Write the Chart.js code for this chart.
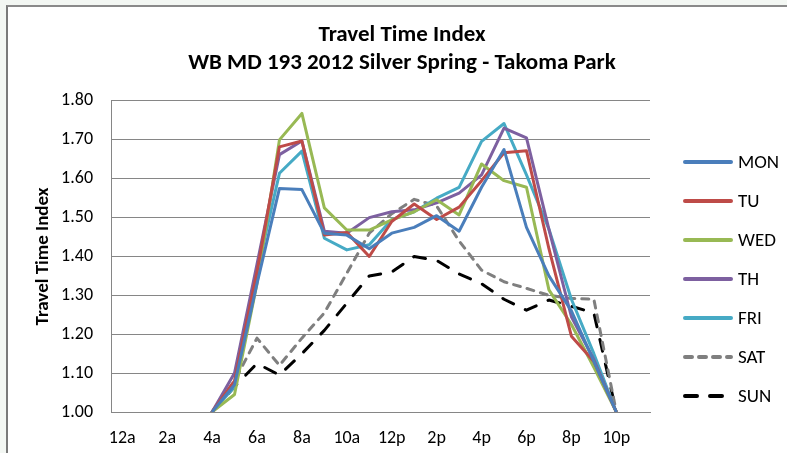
<!DOCTYPE html>
<html>
<head>
<meta charset="utf-8">
<script src="https://cdn.jsdelivr.net/npm/chart.js@4/dist/chart.umd.min.js"></script>
<style>
  html, body { margin: 0; padding: 0; background: #f3f7f3; }
  #frame {
    position: absolute; left: 6px; top: 5px; right: -10px; bottom: -10px;
    background: #fff; border-left: 2px solid #7a7a7a; border-top: 2px solid #8a8a8a;
  }
  #tti { position: absolute; left: 0; top: 0; }
</style>
</head>
<body>
<div id="frame"></div>
<canvas id="tti" width="787" height="453"></canvas>
<script>
// hour of day, one point per hour
const hours = ['12a', '1a', '2a', '3a', '4a', '5a', '6a', '7a', '8a', '9a', '10a', '11a',
               '12p', '1p', '2p', '3p', '4p', '5p', '6p', '7p', '8p', '9p', '10p', '11p'];

const days = ['MON', 'TU', 'WED', 'TH', 'FRI', 'SAT', 'SUN'];

// travel time index by hour (no data overnight)
const mon = [null, null, null, null, 1.00, 1.07, 1.33, 1.575, 1.572, 1.46, 1.455, 1.42,
             1.46, 1.475, 1.505, 1.465, 1.578, 1.675, 1.475, 1.35, 1.26, 1.13, 1.00, null];
const tu  = [null, null, null, null, 1.00, 1.08, 1.36, 1.682, 1.697, 1.455, 1.462, 1.40,
             1.49, 1.535, 1.495, 1.527, 1.595, 1.667, 1.672, 1.42, 1.195, 1.13, 1.00, null];
const wed = [null, null, null, null, 1.00, 1.045, 1.33, 1.70, 1.768, 1.525, 1.468, 1.468,
             1.494, 1.515, 1.546, 1.507, 1.638, 1.595, 1.578, 1.314, 1.225, 1.115, 1.00, null];
const th  = [null, null, null, null, 1.00, 1.10, 1.38, 1.662, 1.697, 1.465, 1.46, 1.50,
             1.515, 1.52, 1.538, 1.563, 1.61, 1.73, 1.705, 1.47, 1.245, 1.135, 1.00, null];
const fri = [null, null, null, null, 1.00, 1.065, 1.36, 1.614, 1.671, 1.447, 1.417, 1.43,
             1.495, 1.515, 1.55, 1.578, 1.696, 1.742, 1.61, 1.47, 1.29, 1.15, 1.00, null];
const sat = [null, null, null, null, 1.00, 1.08, 1.19, 1.12, 1.19, 1.255, 1.357, 1.46,
             1.51, 1.547, 1.53, 1.44, 1.365, 1.335, 1.318, 1.30, 1.292, 1.29, 1.00, null];
const sun = [null, null, null, null, 1.00, 1.065, 1.125, 1.095, 1.15, 1.21, 1.28, 1.35,
             1.36, 1.40, 1.39, 1.355, 1.33, 1.29, 1.262, 1.288, 1.272, 1.255, 1.00, null];

const series = [mon, tu, wed, th, fri, sat, sun];
const colors = ['#4A7EBB', '#BE4B48', '#98B954', '#7D60A0', '#46AAC5', '#7F7F7F', '#000000'];
const dashes = [[], [], [], [], [], [7, 7], [12, 13]];

const FONT = 'Carlito, Lato, "Noto Sans", sans-serif';

// legend drawn down the right-hand side, line sample + day name
const sideLegend = {
  id: 'sideLegend',
  afterDraw(chart) {
    const ctx = chart.ctx;
    ctx.save();
    ctx.font = '19px ' + FONT;
    ctx.textBaseline = 'middle';
    chart.data.datasets.forEach((ds, i) => {
      const y = 162 + i * 39;
      ctx.strokeStyle = ds.borderColor;
      ctx.lineWidth = 4;
      ctx.lineCap = 'round';
      ctx.setLineDash(ds.borderDash);
      ctx.beginPath();
      ctx.moveTo(685, y);
      ctx.lineTo(731, y);
      ctx.stroke();
      ctx.setLineDash([]);
      ctx.fillStyle = '#000';
      ctx.fillText(ds.label, 738, y + 1);
    });
    ctx.restore();
  }
};

new Chart(document.getElementById('tti'), {
  type: 'line',
  data: {
    labels: hours,
    datasets: days.map((d, i) => ({
      label: d,
      data: series[i],
      borderColor: colors[i],
      backgroundColor: colors[i],
      borderWidth: 3,
      borderDash: dashes[i],
      borderCapStyle: i >= 5 ? 'round' : 'butt',
      borderJoinStyle: 'round',
      pointRadius: 0,
      tension: 0,
      spanGaps: false
    }))
  },
  options: {
    responsive: false,
    animation: false,
    layout: { padding: { left: 17, right: 0 } },
    plugins: {
      legend: { display: false },
      tooltip: { enabled: false },
      title: {
        display: true,
        text: ['Travel Time Index', 'WB MD 193 2012 Silver Spring - Takoma Park'],
        color: '#000',
        font: { family: FONT, size: 23, weight: 'bold', lineHeight: 1.217 },
        padding: { top: 21, bottom: 24 }
      }
    },
    scales: {
      x: {
        offset: true,
        grid: { display: false, drawTicks: false },
        border: { display: true, color: '#868686', width: 1 },
        ticks: {
          autoSkip: false,
          maxRotation: 0,
          padding: 16,
          color: '#000',
          font: { family: FONT, size: 18 },
          callback: function (v, i) { return i % 2 === 0 ? this.getLabelForValue(v) : ''; }
        },
        afterFit: (scale) => { scale.height = 41; }
      },
      y: {
        min: 1.0,
        max: 1.8,
        grid: { color: '#868686', lineWidth: 1, drawTicks: false },
        border: { display: true, color: '#868686', width: 1 },
        ticks: {
          stepSize: 0.1,
          padding: 18,
          color: '#000',
          font: { family: FONT, size: 18 },
          callback: (v) => v.toFixed(2)
        },
        title: {
          display: true,
          text: 'Travel Time Index',
          color: '#000',
          font: { family: FONT, size: 19, weight: 'bold', lineHeight: 1.2 },
          padding: { top: 15, bottom: 0 }
        },
        afterFit: (scale) => { scale.width = 94; }
      },
      // empty column on the right that holds the legend
      side: {
        position: 'right',
        display: true,
        grid: { display: false, drawTicks: false },
        border: { display: false },
        ticks: { display: false },
        afterFit: (scale) => { scale.width = 137; }
      }
    }
  },
  plugins: [sideLegend]
});
</script>
</body>
</html>
